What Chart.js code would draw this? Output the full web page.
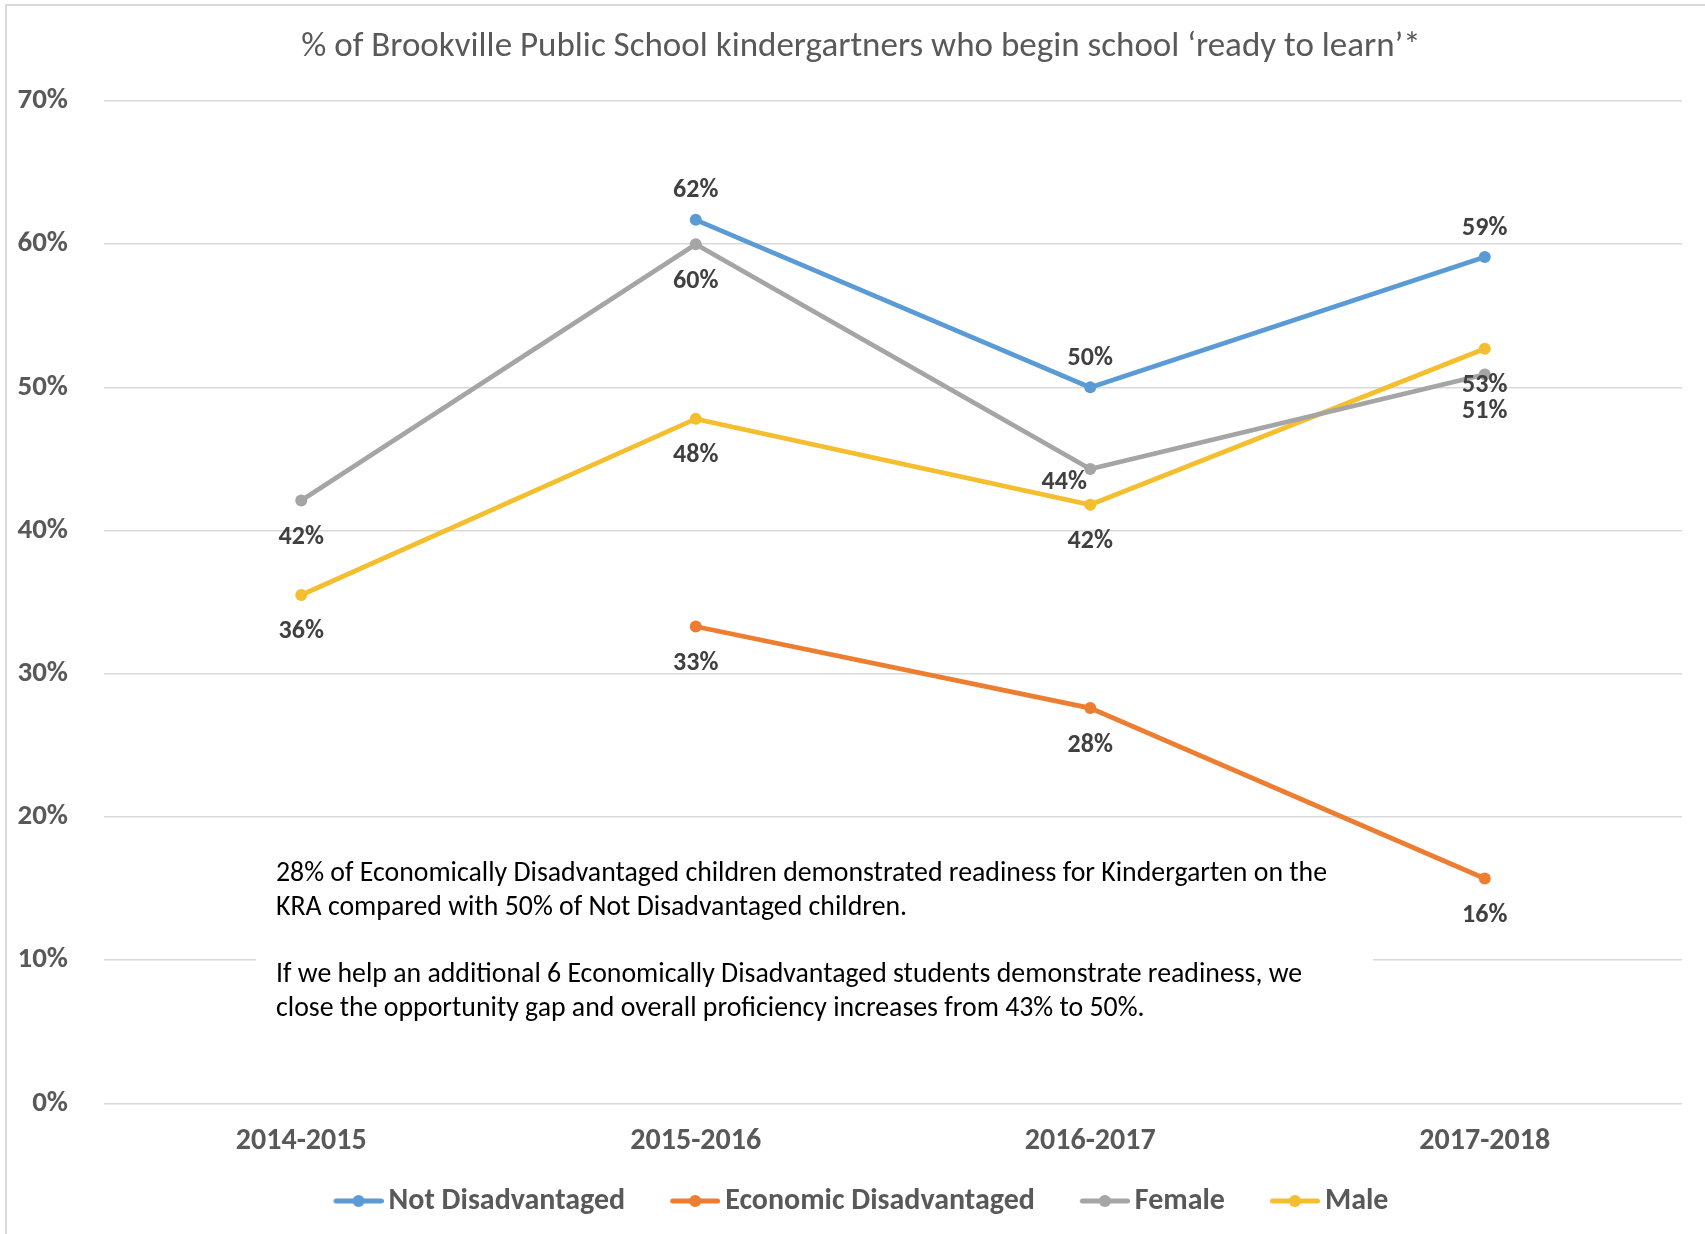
<!DOCTYPE html>
<html>
<head>
<meta charset="utf-8">
<script src="https://cdn.jsdelivr.net/npm/chart.js@4.4.1/dist/chart.umd.min.js"></script>
<style>
  html, body { margin: 0; padding: 0; background: #fff; }
  #wrap { position: relative; width: 1705px; height: 1234px; }
  #wrap:before { content: ''; position: absolute; left: 5px; top: 4px; right: 0; bottom: 0;
    border-left: 2px solid #d9d9d9; border-top: 2px solid #d9d9d9; pointer-events: none; }
</style>
</head>
<body>
<div id="wrap"><canvas id="kraChart" width="1705" height="1234"></canvas></div>
<script>
// data (percent)
const years = ['2014-2015', '2015-2016', '2016-2017', '2017-2018'];
const notDisadvantaged = [null, 61.7, 50.0, 59.1];
const economicDisadvantaged = [null, 33.3, 27.6, 15.7];
const female = [42.1, 60.0, 44.3, 50.9];
const male = [35.5, 47.8, 41.8, 52.7];
const yTicks = [0, 10, 20, 30, 40, 50, 60, 70];

const titleText = '% of Brookville Public School kindergartners who begin school \u2018ready to learn\u2019*';
const noteLines = [
    '28% of Economically Disadvantaged children demonstrated readiness for Kindergarten on the',
    'KRA compared with 50% of Not Disadvantaged children.',
    '',
    'If we help an additional 6 Economically Disadvantaged students demonstrate readiness, we',
    'close the opportunity gap and overall proficiency increases from 43% to 50%.'
];

const fam = 'Carlito, Calibri, "Open Sans", sans-serif';

// legend marker: line with a dot (image is centred at x+20, line runs x..x+50)
function legendMarker(color) {
    const c = document.createElement('canvas');
    c.width = 60; c.height = 14;
    const g = c.getContext('2d');
    g.strokeStyle = color;
    g.lineWidth = 5;
    g.lineCap = 'round';
    g.beginPath(); g.moveTo(12.5, 7); g.lineTo(57.5, 7); g.stroke();
    g.fillStyle = color;
    g.beginPath(); g.arc(35, 7, 6, 0, Math.PI * 2); g.fill();
    return c;
}

function series(label, values, color, labelPos) {
    return {
        label: label,
        data: values,
        borderColor: color,
        backgroundColor: color,
        borderWidth: 4.7,
        pointRadius: 6,
        pointHoverRadius: 6,
        pointBorderWidth: 0,
        spanGaps: false,
        tension: 0,
        labelPos: labelPos
    };
}

// the axes were squeezed in afterFit, so let their labels spill out of the box
const unclipTicks = {
    id: 'unclipTicks',
    afterLayout(chart) {
        chart.scales.y.left = 0;
        chart.scales.x.bottom = chart.height;
    }
};

// value labels next to the points
const valueLabels = {
    id: 'valueLabels',
    afterDatasetsDraw(chart) {
        const ctx = chart.ctx;
        ctx.save();
        ctx.font = 'bold 26px ' + fam;
        ctx.fillStyle = '#404040';
        ctx.textAlign = 'center';
        ctx.textBaseline = 'middle';
        chart.data.datasets.forEach((ds, i) => {
            const meta = chart.getDatasetMeta(i);
            meta.data.forEach((pt, j) => {
                const v = ds.data[j];
                if (v === null) return;
                const pos = ds.labelPos[j];
                let dx = 0, dy = 37;
                if (pos === 'above') dy = -29;
                if (pos === 'leftBelow') { dx = -26; dy = 14; }
                ctx.fillText(Math.round(v) + '%', pt.x + dx, pt.y + dy);
            });
        });
        ctx.restore();
    }
};

// text box laid over the lower part of the plot
const noteBox = {
    id: 'noteBox',
    beforeDatasetsDraw(chart) {
        const ctx = chart.ctx;
        ctx.save();
        ctx.fillStyle = '#ffffff';
        ctx.fillRect(256, 842, 1117, 200);
        ctx.font = '27.8px ' + fam;
        ctx.fillStyle = '#000000';
        ctx.textAlign = 'left';
        ctx.textBaseline = 'middle';
        noteLines.forEach((t, i) => {
            ctx.fillText(t, 276, 874 + i * 33.7);
        });
        ctx.restore();
    }
};

const ctx = document.getElementById('kraChart').getContext('2d');
const chart = new Chart(ctx, {
    type: 'line',
    data: {
        labels: years,
        datasets: [
            series('Not Disadvantaged', notDisadvantaged, '#5B9BD5', ['above', 'above', 'above', 'above']),
            series('Economic Disadvantaged', economicDisadvantaged, '#ED7D31', ['below', 'below', 'below', 'below']),
            series('Female', female, '#A5A5A5', ['below', 'below', 'leftBelow', 'below']),
            series('Male', male, '#F5BE2E', ['below', 'below', 'below', 'below'])
        ]
    },
    options: {
        responsive: false,
        animation: false,
        layout: {
            padding: { left: 40, right: 23, top: 0, bottom: 8 }
        },
        scales: {
            x: {
                offset: true,
                grid: { display: false },
                border: { display: false },
                afterFit(scale) {
                    scale.height = 37.7;
                },
                ticks: {
                    color: '#595959',
                    font: { family: fam, size: 30, weight: 'bold' },
                    padding: 12.5
                }
            },
            y: {
                min: 0,
                max: 70,
                afterBuildTicks(scale) {
                    scale.ticks = yTicks.map(v => ({ value: v }));
                },
                afterFit(scale) {
                    scale.width = 64;
                },
                grid: { color: '#d9d9d9', lineWidth: 1.5, drawTicks: false },
                border: { display: false },
                ticks: {
                    color: '#595959',
                    font: { family: fam, size: 29, weight: 'bold' },
                    padding: 36,
                    callback: v => v + '%'
                }
            }
        },
        plugins: {
            title: {
                display: true,
                text: titleText,
                color: '#595959',
                font: { family: fam, size: 35, weight: 'normal' },
                padding: { top: 26, bottom: 33 }
            },
            legend: {
                position: 'bottom',
                labels: {
                    color: '#595959',
                    font: { family: fam, size: 30, weight: 'bold' },
                    usePointStyle: true,
                    pointStyleWidth: 40,
                    padding: 45,
                    generateLabels(chart) {
                        return chart.data.datasets.map((ds, i) => ({
                            text: ds.label,
                            fillStyle: ds.borderColor,
                            strokeStyle: ds.borderColor,
                            fontColor: '#595959',
                            pointStyle: legendMarker(ds.borderColor),
                            lineWidth: 0,
                            hidden: false,
                            datasetIndex: i
                        }));
                    }
                }
            },
            tooltip: { enabled: false }
        }
    },
    plugins: [unclipTicks, noteBox, valueLabels]
});
</script>
</body>
</html>
